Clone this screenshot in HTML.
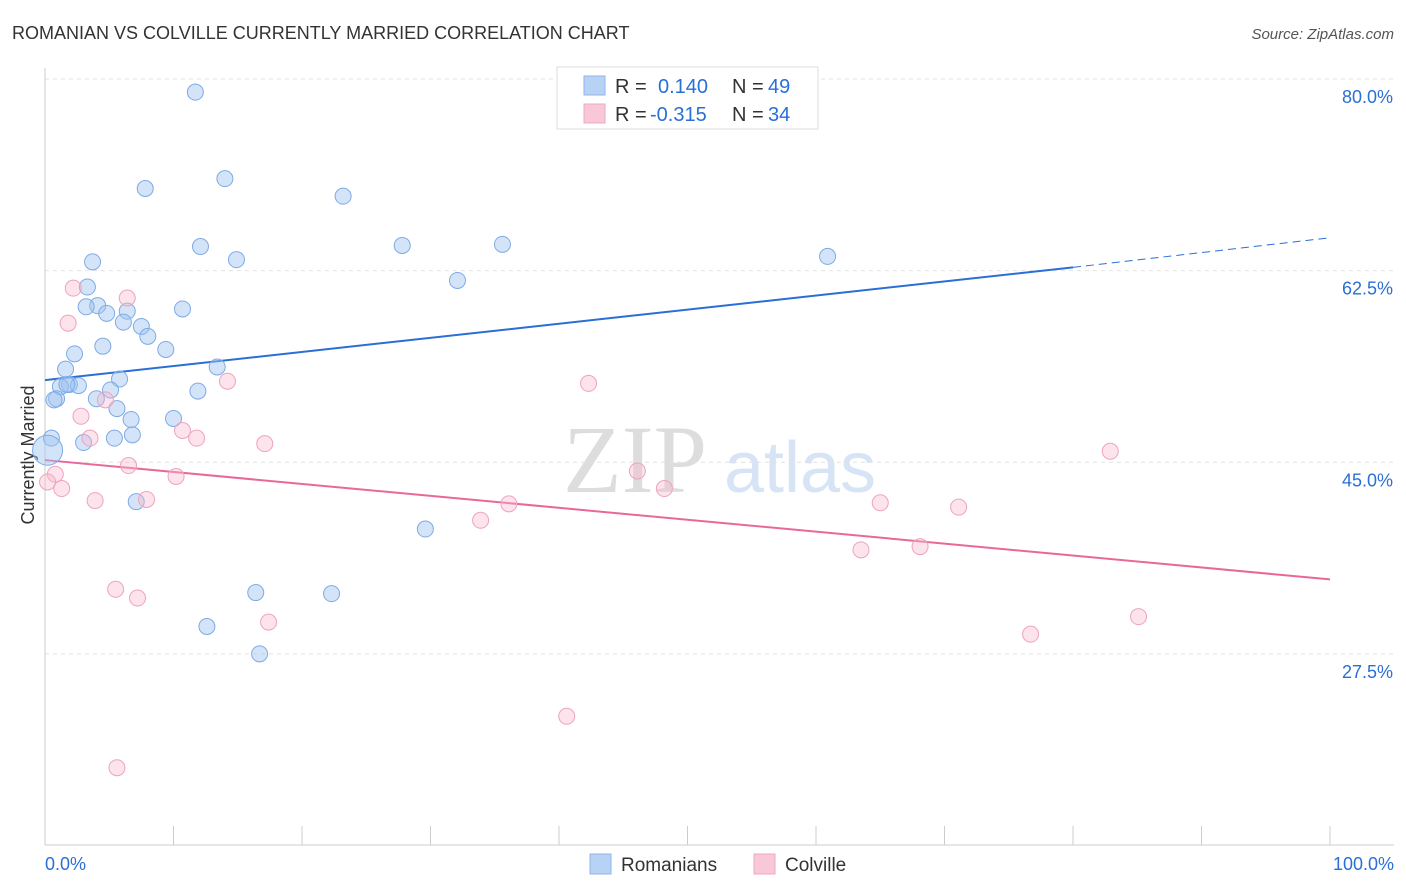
<!DOCTYPE html>
<html><head><meta charset="utf-8">
<style>
body{margin:0;background:#fff;font-family:"Liberation Sans",sans-serif;}
svg{display:block}
</style></head>
<body>
<svg id="chart" width="1406" height="892">
<text x="12" y="39" font-size="18" fill="#333">ROMANIAN VS COLVILLE CURRENTLY MARRIED CORRELATION CHART</text>
<text x="1394" y="39" font-size="15" fill="#555" text-anchor="end" font-style="italic">Source: ZipAtlas.com</text>
<text x="34" y="455" font-size="18" fill="#333" text-anchor="middle" transform="rotate(-90 34 455)">Currently Married</text>
<g><text x="635" y="492" font-size="96" fill="#ddd" font-family="Liberation Serif,serif" text-anchor="middle">ZIP</text><text x="800" y="492" font-size="72" fill="#d6e4f5" text-anchor="middle">atlas</text></g>
<g id="grid"></g><g id="axes"></g><g id="lines"></g><g id="pts"></g>
<g>
<rect x="557" y="67" width="261" height="62" fill="#fff" stroke="#ddd"/>
<rect x="584" y="76" width="21" height="19" fill="#b8d2f5" stroke="#8fb4e8"/>
<rect x="584" y="104" width="21" height="19" fill="#f9c8d8" stroke="#f0a8c0"/>
<text x="615" y="93" font-size="20" fill="#333">R =</text><text x="658" y="93" font-size="20" fill="#2a6fd6">0.140</text>
<text x="732" y="93" font-size="20" fill="#333">N =</text><text x="768" y="93" font-size="20" fill="#2a6fd6">49</text>
<text x="615" y="121" font-size="20" fill="#333">R =</text><text x="650" y="121" font-size="20" fill="#2a6fd6">-0.315</text>
<text x="732" y="121" font-size="20" fill="#333">N =</text><text x="768" y="121" font-size="20" fill="#2a6fd6">34</text>
</g>
<g>
<rect x="590" y="854" width="21" height="20" fill="#b8d2f5" stroke="#8fb4e8"/><text x="621" y="871" font-size="19" fill="#333">Romanians</text>
<rect x="754" y="854" width="21" height="20" fill="#f9c8d8" stroke="#f0a8c0"/><text x="785" y="871" font-size="19" fill="#333">Colville</text>
</g>
</svg>
<script>
const yTicks=[80,62.5,45,27.5];
const yTickLabels=["80.0%","62.5%","45.0%","27.5%"];
const xTickLabels=["0.0%","100.0%"];
const blueX=[11.7,7.8,14.0,23.2,12.1,14.9,27.8,35.6,60.9,3.7,32.1,3.3,4.1,3.2,4.8,6.4,10.7,6.1,7.5,8.0,9.4,4.5,2.3,13.4,1.6,5.8,1.9,2.6,1.2,1.7,11.9,5.1,0.9,4.0,0.7,5.6,6.7,10.0,6.8,5.4,0.5,3.0,0.2,7.1,29.6,16.4,22.3,12.6,16.7];
const blueY=[78.8,70.0,70.9,69.3,64.7,63.5,64.8,64.9,63.8,63.3,61.6,61.0,59.3,59.2,58.6,58.8,59.0,57.8,57.4,56.5,55.3,55.6,54.9,53.7,53.5,52.6,52.1,52.0,51.9,52.1,51.5,51.6,50.8,50.8,50.7,49.9,48.9,49.0,47.5,47.2,47.2,46.8,46.1,41.4,38.9,33.1,33.0,30.0,27.5];
const pinkX=[2.2,6.4,1.8,14.2,42.3,4.7,2.8,10.7,11.8,3.5,17.1,82.9,6.5,46.1,0.8,10.2,0.2,1.3,48.2,3.9,7.9,36.1,65.0,71.1,33.9,63.5,68.1,5.5,7.2,17.4,76.7,85.1,40.6,5.6];
const pinkY=[60.9,60.0,57.7,52.4,52.2,50.7,49.2,47.9,47.2,47.2,46.7,46.0,44.7,44.2,43.9,43.7,43.2,42.6,42.6,41.5,41.6,41.2,41.3,40.9,39.7,37.0,37.3,33.4,32.6,30.4,29.3,30.9,21.8,17.1];
const blueTrend=[52.5,62.8,65.5];
const pinkTrend=[45.2,34.3];
const NS="http://www.w3.org/2000/svg";
const X=v=>45+v*12.85, Y=v=>79+(80-v)*10.95;
function mk(t,a,p){const e=document.createElementNS(NS,t);for(const k in a)e.setAttribute(k,a[k]);document.getElementById(p).appendChild(e);return e;}
yTicks.forEach((t,i)=>{
 const g=mk('line',{x1:45,x2:1394,y1:Y(t),y2:Y(t),stroke:'#e2e2e2','stroke-dasharray':'4,4'},'grid');
 
 
 const l=mk('text',{x:1393,y:Y(t)+24,'font-size':18,fill:'#2a6fd6','text-anchor':'end'},'axes');l.textContent=yTickLabels[i];
 
 
});
mk('line',{x1:45,x2:45,y1:68,y2:845,stroke:'#ccc'},'axes');
mk('line',{x1:45,x2:1394,y1:845,y2:845,stroke:'#ccc'},'axes');
for(let i=0;i<=10;i++){const t=mk('line',{x1:X(i*10),x2:X(i*10),y1:826,y2:845,stroke:'#ccc'},'axes');
 
 }
[[0,'start',45],[100,'end',1394]].forEach((d,i)=>{const l=mk('text',{x:d[2],y:870,'font-size':18,fill:'#2a6fd6','text-anchor':d[1]},'axes');l.textContent=xTickLabels[i];
 
 });
let bl=mk('line',{x1:X(0),y1:Y(blueTrend[0]),x2:X(80),y2:Y(blueTrend[1]),stroke:'#2a6fd6','stroke-width':2},'lines');


let bd=mk('line',{x1:X(80),y1:Y(blueTrend[1]),x2:X(100),y2:Y(blueTrend[2]),stroke:'#2a6fd6','stroke-width':1,'stroke-dasharray':'8,5'},'lines');


let pl=mk('line',{x1:X(0),y1:Y(pinkTrend[0]),x2:X(100),y2:Y(pinkTrend[1]),stroke:'#e8689a','stroke-width':2},'lines');


blueX.forEach((x,i)=>{const c=mk('circle',{cx:X(x),cy:Y(blueY[i]),r:i==42?15:8,fill:'rgba(160,195,240,0.45)',stroke:'#7eaae6','stroke-width':1},'pts');
 
 });
pinkX.forEach((x,i)=>{const c=mk('circle',{cx:X(x),cy:Y(pinkY[i]),r:8,fill:'rgba(248,185,208,0.4)',stroke:'#eea3bf','stroke-width':1},'pts');
 
 });
</script>
</body></html>
